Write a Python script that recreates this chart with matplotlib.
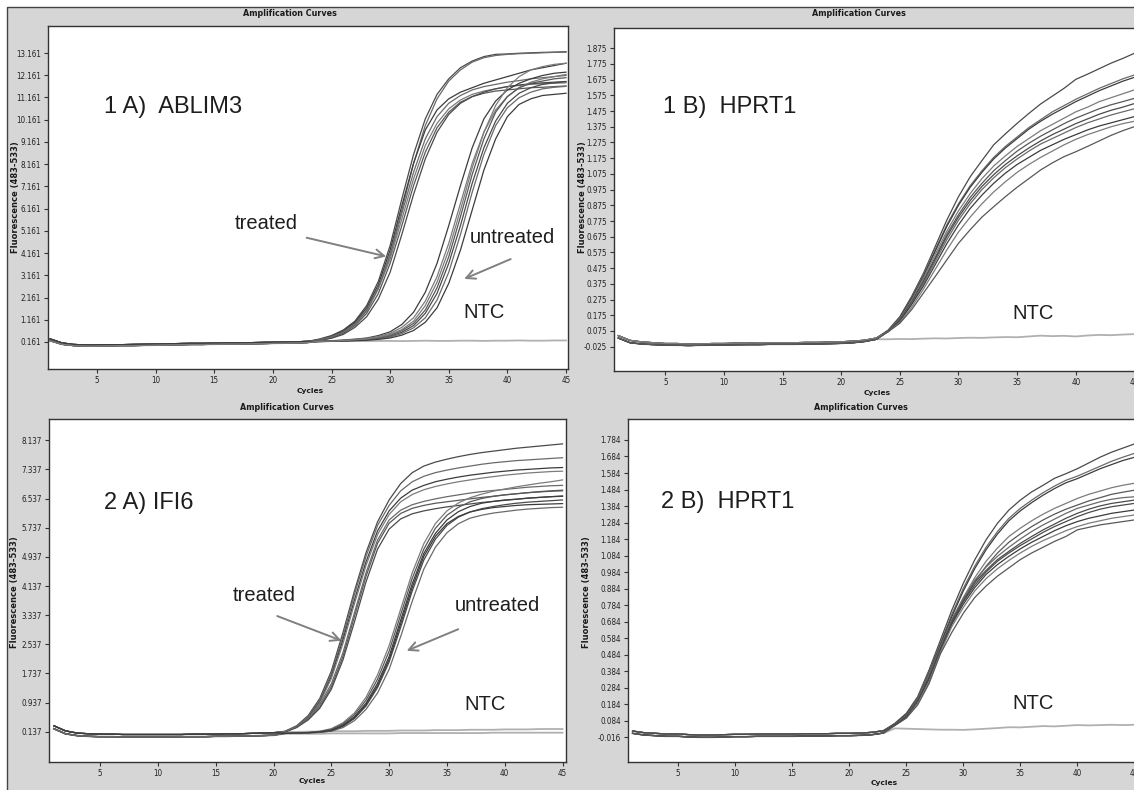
import matplotlib.pyplot as plt
from matplotlib import font_manager
from matplotlib.patches import Rectangle
from matplotlib.lines import Line2D

W, H = 1134, 790

cycles = list(range(1, 46))
x_ticks = [5, 10, 15, 20, 25, 30, 35, 40, 45]

# ---- 1 A) ABLIM3 ----
ablim3_ticks = [0.161, 1.161, 2.161, 3.161, 4.161, 5.161, 6.161, 7.161,
                8.161, 9.161, 10.161, 11.161, 12.161, 13.161]
ablim3_base_a = [0.30, 0.12, 0.05, 0.03, 0.03, 0.04, 0.04, 0.05, 0.06, 0.07, 0.08, 0.09,
                 0.10, 0.10, 0.11, 0.12, 0.12, 0.13, 0.14, 0.15, 0.16, 0.17, 0.19]
ablim3_base_b = [0.22, 0.06, 0.00, -0.02, -0.02, -0.01, 0.00, 0.00, 0.01, 0.02, 0.03, 0.04,
                 0.05, 0.05, 0.06, 0.07, 0.07, 0.08, 0.09, 0.10, 0.11, 0.12, 0.14]
# cycles 24..45
ablim3_treated = [
    [0.30, 0.45, 0.70, 1.10, 1.80, 2.90, 4.50, 6.60, 8.60, 10.2, 11.3, 12.0, 12.5, 12.8, 13.0, 13.1, 13.12, 13.15, 13.17, 13.19, 13.2, 13.22],
    [0.28, 0.40, 0.62, 1.00, 1.60, 2.60, 4.10, 6.10, 8.20, 9.90, 11.1, 11.9, 12.4, 12.75, 12.95, 13.05, 13.1, 13.13, 13.15, 13.17, 13.19, 13.2],
    [0.27, 0.42, 0.65, 1.05, 1.70, 2.75, 4.30, 6.30, 8.20, 9.70, 10.6, 11.1, 11.4, 11.6, 11.8, 11.95, 12.1, 12.25, 12.4, 12.5, 12.6, 12.7],
    [0.25, 0.38, 0.60, 0.95, 1.55, 2.55, 3.90, 5.70, 7.50, 9.00, 10.0, 10.65, 11.05, 11.3, 11.45, 11.55, 11.65, 11.7, 11.75, 11.78, 11.8, 11.82],
    [0.24, 0.35, 0.55, 0.90, 1.45, 2.35, 3.70, 5.40, 7.20, 8.70, 9.80, 10.5, 10.95, 11.2, 11.35, 11.45, 11.5, 11.55, 11.6, 11.62, 11.65, 11.68],
    [0.23, 0.33, 0.50, 0.82, 1.30, 2.10, 3.30, 5.00, 6.80, 8.40, 9.60, 10.4, 10.9, 11.2, 11.4, 11.55, 11.65, 11.72, 11.78, 11.82, 11.85, 11.88],
    [0.26, 0.39, 0.60, 0.98, 1.58, 2.62, 4.05, 5.95, 7.80, 9.30, 10.3, 10.9, 11.25, 11.5, 11.65, 11.75, 11.85, 11.92, 12.0, 12.05, 12.1, 12.15],
]
ablim3_untreated = [
    [0.20, 0.22, 0.25, 0.29, 0.34, 0.45, 0.62, 0.95, 1.50, 2.40, 3.70, 5.40, 7.20, 8.90, 10.2, 11.0, 11.5, 11.8, 12.0, 12.15, 12.25, 12.3],
    [0.19, 0.21, 0.23, 0.27, 0.32, 0.41, 0.55, 0.82, 1.25, 2.00, 3.10, 4.60, 6.40, 8.20, 9.60, 10.6, 11.2, 11.6, 11.85, 12.0, 12.1, 12.2],
    [0.19, 0.20, 0.22, 0.25, 0.29, 0.36, 0.47, 0.67, 1.00, 1.60, 2.60, 4.00, 5.80, 7.70, 9.30, 10.5, 11.2, 11.6, 11.8, 11.9, 12.0, 12.05],
    [0.18, 0.20, 0.21, 0.24, 0.27, 0.32, 0.42, 0.60, 0.90, 1.45, 2.35, 3.70, 5.40, 7.30, 8.90, 10.1, 10.9, 11.35, 11.6, 11.75, 11.82, 11.87],
    [0.18, 0.19, 0.21, 0.23, 0.26, 0.30, 0.39, 0.54, 0.80, 1.25, 2.05, 3.30, 5.00, 6.90, 8.60, 9.90, 10.7, 11.15, 11.4, 11.55, 11.62, 11.66],
    [0.18, 0.19, 0.20, 0.22, 0.24, 0.28, 0.34, 0.47, 0.68, 1.05, 1.70, 2.80, 4.30, 6.10, 7.90, 9.30, 10.3, 10.85, 11.1, 11.25, 11.3, 11.35],
    [0.19, 0.20, 0.22, 0.26, 0.30, 0.38, 0.50, 0.72, 1.10, 1.80, 2.85, 4.30, 6.10, 8.00, 9.60, 10.8, 11.6, 12.1, 12.4, 12.55, 12.65, 12.7],
]
ablim3_ntc = [
    [0.20, 0.20, 0.21, 0.20, 0.20, 0.21, 0.21, 0.20, 0.21, 0.22, 0.21, 0.21, 0.22, 0.22, 0.21, 0.22, 0.22, 0.23, 0.22, 0.22, 0.23, 0.23],
]

# ---- 1 B) HPRT1 ----
hprt1_1_ticks = [-0.025, 0.075, 0.175, 0.275, 0.375, 0.475, 0.575, 0.675, 0.775, 0.875,
                 0.975, 1.075, 1.175, 1.275, 1.375, 1.475, 1.575, 1.675, 1.775, 1.875]
hprt1_1_base_a = [0.045, 0.015, 0.005, 0.0, -0.005, -0.005, -0.008, -0.008, -0.005, -0.005, -0.003, -0.003,
                  0.0, 0.0, 0.0, 0.0, 0.002, 0.002, 0.004, 0.006, 0.01, 0.016, 0.03]
hprt1_1_base_b = [0.03, 0.0, -0.008, -0.012, -0.015, -0.016, -0.018, -0.016, -0.015, -0.014, -0.013, -0.012,
                  -0.012, -0.01, -0.01, -0.01, -0.008, -0.008, -0.006, -0.004, 0.0, 0.008, 0.022]
# cycles 24..45
hprt1_1_curves = [
    [0.080, 0.166, 0.294, 0.44, 0.61, 0.78, 0.93, 1.057, 1.16, 1.26, 1.33, 1.397, 1.46, 1.52, 1.57, 1.62, 1.677, 1.71, 1.745, 1.78, 1.81, 1.843],
    [0.078, 0.160, 0.285, 0.43, 0.59, 0.75, 0.885, 1.0, 1.095, 1.18, 1.25, 1.31, 1.37, 1.42, 1.47, 1.51, 1.55, 1.585, 1.62, 1.65, 1.68, 1.705],
    [0.076, 0.158, 0.280, 0.42, 0.58, 0.74, 0.875, 0.99, 1.085, 1.17, 1.24, 1.30, 1.36, 1.41, 1.455, 1.495, 1.535, 1.57, 1.605, 1.635, 1.665, 1.69],
    [0.075, 0.152, 0.270, 0.41, 0.56, 0.71, 0.84, 0.95, 1.045, 1.125, 1.19, 1.25, 1.30, 1.35, 1.39, 1.43, 1.47, 1.50, 1.535, 1.56, 1.585, 1.61],
    [0.074, 0.148, 0.260, 0.395, 0.54, 0.69, 0.815, 0.925, 1.015, 1.095, 1.16, 1.22, 1.27, 1.315, 1.355, 1.395, 1.43, 1.46, 1.49, 1.515, 1.535, 1.556],
    [0.073, 0.145, 0.255, 0.385, 0.53, 0.675, 0.80, 0.905, 0.995, 1.07, 1.135, 1.19, 1.24, 1.285, 1.325, 1.36, 1.395, 1.425, 1.455, 1.48, 1.50, 1.523],
    [0.072, 0.142, 0.250, 0.375, 0.515, 0.655, 0.78, 0.885, 0.975, 1.05, 1.115, 1.17, 1.22, 1.265, 1.30, 1.335, 1.37, 1.40, 1.425, 1.45, 1.47, 1.49],
    [0.071, 0.138, 0.242, 0.36, 0.495, 0.63, 0.75, 0.855, 0.94, 1.015, 1.08, 1.135, 1.18, 1.225, 1.26, 1.295, 1.325, 1.355, 1.38, 1.40, 1.42, 1.44],
    [0.070, 0.130, 0.225, 0.34, 0.465, 0.59, 0.705, 0.80, 0.885, 0.96, 1.025, 1.085, 1.135, 1.18, 1.22, 1.26, 1.295, 1.325, 1.35, 1.375, 1.395, 1.41],
    [0.070, 0.124, 0.210, 0.315, 0.42, 0.527, 0.633, 0.72, 0.80, 0.866, 0.93, 0.99, 1.045, 1.10, 1.145, 1.185, 1.216, 1.25, 1.285, 1.32, 1.35, 1.376],
]
hprt1_1_ntc = [
    [0.022, 0.024, 0.023, 0.026, 0.028, 0.027, 0.030, 0.032, 0.031, 0.034, 0.036, 0.035, 0.040, 0.045, 0.042, 0.044, 0.040, 0.046, 0.050, 0.048, 0.052, 0.055],
]

# ---- 2 A) IFI6 ----
ifi6_ticks = [0.137, 0.937, 1.737, 2.537, 3.337, 4.137, 4.937, 5.737, 6.537, 7.337, 8.137]
ifi6_base_a = [0.30, 0.16, 0.10, 0.08, 0.07, 0.07, 0.06, 0.06, 0.06, 0.06,
               0.06, 0.06, 0.07, 0.07, 0.07, 0.08, 0.08, 0.09, 0.10, 0.11]
ifi6_base_b = [0.22, 0.08, 0.03, 0.01, 0.00, 0.00, -0.01, -0.01, -0.01, -0.01,
               -0.01, 0.00, 0.00, 0.00, 0.01, 0.01, 0.02, 0.02, 0.03, 0.04]
# cycles 21..45
ifi6_treated = [
    [0.15, 0.30, 0.58, 1.05, 1.80, 2.85, 4.00, 5.05, 5.90, 6.50, 6.95, 7.25, 7.43, 7.54, 7.62, 7.69, 7.75, 7.80, 7.84, 7.88, 7.92, 7.95, 7.98, 8.01, 8.04],
    [0.14, 0.28, 0.55, 1.00, 1.72, 2.75, 3.90, 4.95, 5.80, 6.35, 6.75, 7.00, 7.15, 7.25, 7.32, 7.38, 7.43, 7.48, 7.52, 7.55, 7.58, 7.60, 7.62, 7.64, 7.66],
    [0.14, 0.27, 0.52, 0.95, 1.65, 2.65, 3.75, 4.80, 5.65, 6.20, 6.55, 6.77, 6.90, 7.00, 7.07, 7.13, 7.18, 7.22, 7.26, 7.29, 7.32, 7.34, 7.36, 7.38, 7.39],
    [0.13, 0.26, 0.50, 0.92, 1.60, 2.55, 3.65, 4.70, 5.55, 6.10, 6.45, 6.65, 6.78, 6.87, 6.94, 7.00, 7.05, 7.10, 7.14, 7.18, 7.21, 7.24, 7.26, 7.28, 7.29],
    [0.14, 0.27, 0.50, 0.82, 1.37, 2.20, 3.30, 4.40, 5.31, 5.86, 6.13, 6.27, 6.35, 6.41, 6.45, 6.49, 6.53, 6.57, 6.60, 6.64, 6.67, 6.70, 6.73, 6.75, 6.77],
    [0.13, 0.25, 0.46, 0.78, 1.30, 2.10, 3.15, 4.25, 5.15, 5.70, 5.98, 6.12, 6.20, 6.26, 6.31, 6.35, 6.39, 6.43, 6.46, 6.49, 6.52, 6.55, 6.57, 6.59, 6.60],
    [0.14, 0.28, 0.52, 0.88, 1.45, 2.30, 3.40, 4.50, 5.40, 5.95, 6.22, 6.37, 6.46, 6.53, 6.59, 6.64, 6.69, 6.73, 6.76, 6.79, 6.82, 6.85, 6.87, 6.89, 6.90],
]
ifi6_untreated = [
    [0.09, 0.10, 0.11, 0.13, 0.18, 0.32, 0.55, 0.92, 1.47, 2.20, 3.20, 4.20, 5.03, 5.58, 5.95, 6.18, 6.32, 6.41, 6.46, 6.50, 6.52, 6.55, 6.57, 6.59, 6.61],
    [0.09, 0.10, 0.12, 0.15, 0.22, 0.38, 0.65, 1.08, 1.70, 2.50, 3.50, 4.50, 5.30, 5.85, 6.20, 6.42, 6.56, 6.66, 6.74, 6.80, 6.86, 6.91, 6.96, 7.00, 7.05],
    [0.09, 0.10, 0.11, 0.14, 0.20, 0.35, 0.60, 1.00, 1.58, 2.35, 3.35, 4.35, 5.15, 5.72, 6.08, 6.30, 6.45, 6.54, 6.60, 6.64, 6.67, 6.70, 6.72, 6.74, 6.75],
    [0.09, 0.10, 0.11, 0.12, 0.16, 0.28, 0.50, 0.84, 1.35, 2.05, 3.00, 4.00, 4.85, 5.42, 5.80, 6.03, 6.17, 6.26, 6.32, 6.37, 6.41, 6.44, 6.46, 6.48, 6.50],
    [0.09, 0.10, 0.10, 0.12, 0.15, 0.25, 0.44, 0.75, 1.20, 1.85, 2.75, 3.72, 4.60, 5.20, 5.60, 5.85, 6.00, 6.08, 6.14, 6.18, 6.22, 6.25, 6.27, 6.29, 6.30],
    [0.09, 0.10, 0.11, 0.13, 0.17, 0.30, 0.52, 0.88, 1.40, 2.12, 3.10, 4.10, 4.95, 5.50, 5.85, 6.05, 6.17, 6.24, 6.29, 6.32, 6.35, 6.37, 6.38, 6.39, 6.40],
]
ifi6_ntc = [
    [0.13, 0.13, 0.14, 0.14, 0.15, 0.15, 0.15, 0.16, 0.16, 0.16, 0.17, 0.17, 0.17, 0.18, 0.18, 0.18, 0.19, 0.19, 0.19, 0.20, 0.20, 0.20, 0.21, 0.21, 0.21],
    [0.08, 0.08, 0.08, 0.08, 0.09, 0.09, 0.09, 0.09, 0.09, 0.09, 0.10, 0.10, 0.10, 0.10, 0.10, 0.10, 0.10, 0.10, 0.11, 0.11, 0.11, 0.11, 0.11, 0.11, 0.11],
]

# ---- 2 B) HPRT1 ----
hprt1_2_ticks = [-0.016, 0.084, 0.184, 0.284, 0.384, 0.484, 0.584, 0.684, 0.784, 0.884,
                 0.984, 1.084, 1.184, 1.284, 1.384, 1.484, 1.584, 1.684, 1.784]
hprt1_2_base_a = [0.022, 0.012, 0.008, 0.004, 0.004, 0.0, -0.002, -0.002, 0.0, 0.002, 0.002, 0.004,
                  0.004, 0.004, 0.004, 0.006, 0.006, 0.006, 0.008, 0.008, 0.01, 0.014, 0.024]
hprt1_2_base_b = [0.008, -0.002, -0.006, -0.01, -0.01, -0.014, -0.016, -0.016, -0.014, -0.012, -0.012, -0.01,
                  -0.01, -0.01, -0.01, -0.008, -0.008, -0.008, -0.006, -0.006, -0.004, 0.0, 0.01]
# cycles 24..45
hprt1_2_curves = [
    [0.069, 0.129, 0.230, 0.392, 0.573, 0.755, 0.916, 1.058, 1.18, 1.28, 1.36, 1.42, 1.47, 1.51, 1.552, 1.58, 1.61, 1.645, 1.68, 1.71, 1.735, 1.76],
    [0.066, 0.124, 0.222, 0.380, 0.555, 0.730, 0.885, 1.02, 1.135, 1.23, 1.31, 1.37, 1.42, 1.465, 1.505, 1.54, 1.565, 1.595, 1.625, 1.655, 1.68, 1.703],
    [0.065, 0.122, 0.218, 0.372, 0.545, 0.715, 0.870, 1.005, 1.12, 1.215, 1.295, 1.355, 1.405, 1.45, 1.49, 1.525, 1.55, 1.58, 1.61, 1.635, 1.66, 1.679],
    [0.062, 0.115, 0.213, 0.365, 0.530, 0.690, 0.830, 0.95, 1.05, 1.13, 1.20, 1.25, 1.295, 1.335, 1.37, 1.40, 1.43, 1.455, 1.475, 1.495, 1.51, 1.522],
    [0.060, 0.112, 0.210, 0.355, 0.520, 0.675, 0.810, 0.925, 1.02, 1.10, 1.165, 1.215, 1.26, 1.30, 1.335, 1.365, 1.39, 1.415, 1.435, 1.455, 1.468, 1.48],
    [0.059, 0.109, 0.210, 0.351, 0.533, 0.694, 0.815, 0.92, 0.995, 1.06, 1.11, 1.158, 1.20, 1.24, 1.275, 1.31, 1.34, 1.365, 1.385, 1.40, 1.41, 1.42],
    [0.060, 0.111, 0.212, 0.355, 0.535, 0.700, 0.825, 0.935, 1.015, 1.08, 1.135, 1.185, 1.23, 1.27, 1.305, 1.34, 1.37, 1.39, 1.41, 1.425, 1.435, 1.44],
    [0.058, 0.106, 0.200, 0.335, 0.510, 0.670, 0.790, 0.89, 0.97, 1.03, 1.08, 1.125, 1.165, 1.20, 1.235, 1.265, 1.29, 1.31, 1.325, 1.34, 1.35, 1.36],
    [0.057, 0.104, 0.190, 0.320, 0.500, 0.655, 0.770, 0.87, 0.945, 1.005, 1.055, 1.10, 1.14, 1.175, 1.205, 1.235, 1.26, 1.28, 1.295, 1.31, 1.32, 1.33],
    [0.055, 0.100, 0.180, 0.310, 0.490, 0.620, 0.735, 0.83, 0.90, 0.96, 1.01, 1.06, 1.10, 1.135, 1.17, 1.20, 1.24, 1.255, 1.27, 1.28, 1.29, 1.30],
    [0.059, 0.108, 0.205, 0.345, 0.520, 0.680, 0.805, 0.905, 0.985, 1.05, 1.10, 1.145, 1.185, 1.225, 1.26, 1.29, 1.32, 1.345, 1.365, 1.38, 1.39, 1.40],
]
hprt1_2_ntc = [
    [0.038, 0.036, 0.034, 0.032, 0.030, 0.030, 0.029, 0.032, 0.036, 0.040, 0.045, 0.044, 0.048, 0.052, 0.050, 0.054, 0.058, 0.056, 0.058, 0.060, 0.058, 0.060],
]

curve_colors = ['#4a4a4a', '#6a6a6a', '#3c3c3c', '#7c7c7c', '#585858']
big_font = ['Liberation Sans', 'DejaVu Sans']
head_font = dict(family=['DejaVu Sans'], weight='bold')

# narrow font for the small tick labels, whatever is installed
_fonts = {(f.name, f.stretch) for f in font_manager.fontManager.ttflist}
_names = {f[0] for f in _fonts}
if 'Liberation Sans Narrow' in _names:
    small = dict(family=['Liberation Sans Narrow', 'DejaVu Sans'], size=6.2)
elif ('DejaVu Sans', 'condensed') in _fonts or 'DejaVu Sans Condensed' in _names:
    small = dict(family=['DejaVu Sans Condensed', 'DejaVu Sans'], stretch='condensed', size=5.8)
else:
    small = dict(family=['Liberation Sans', 'DejaVu Sans'], size=5.4)


def fig_xy(x, y):
    return x / W, 1 - y / H


def full(base, tail):
    return base[:45 - len(tail)] + tail


def draw_panel(fig, box, xlim, ylim, yticks, base_a, base_b, curves, ntcs,
               title_at, cycles_at, fluo_at, label, label_at, notes):
    left, top, right, bottom = box
    ax = fig.add_axes([left / W, 1 - bottom / H, (right - left) / W, (bottom - top) / H])
    ax.set_zorder(2)
    ax.set_facecolor('white')
    for s in ax.spines.values():
        s.set_color('#333333')
        s.set_linewidth(1.0)

    for tail in ntcs:
        ax.plot(cycles, full(base_b, tail), color='#b0b0b0', lw=1.3, zorder=2)
    for i, tail in enumerate(curves):
        base = base_a if i % 2 == 0 else base_b
        ax.plot(cycles, full(base, tail), color=curve_colors[i % len(curve_colors)],
                lw=0.9, zorder=3)

    ax.set_xlim(xlim)
    ax.set_ylim(ylim)
    ax.set_xticks(x_ticks)
    ax.set_xticklabels([str(t) for t in x_ticks], color='#222222', **small)
    ax.set_yticks(yticks)
    ax.set_yticklabels(['%.3f' % t for t in yticks], color='#222222', **small)
    ax.tick_params(direction='out', length=3, width=0.8, color='#333333', pad=2)

    ax.text(label_at[0], label_at[1], label, family=big_font, fontsize=17,
            color='#1e1e1e', ha='left', va='center')
    for n in notes:
        ax.text(n['at'][0], n['at'][1], n['text'], family=big_font, fontsize=14.5,
                color='#1e1e1e', ha='center', va='center')
        if 'tail' in n:
            ax.annotate('', xy=n['tip'], xytext=n['tail'],
                        arrowprops=dict(arrowstyle='->', color='#808080', lw=1.4,
                                        mutation_scale=16))

    fx, fy = fig_xy(*title_at)
    fig.text(fx, fy, 'Amplification Curves', size=5.8, color='#1a1a1a',
             ha='center', va='center', **head_font)
    fx, fy = fig_xy(*cycles_at)
    fig.text(fx, fy, 'Cycles', size=5.4, color='#1a1a1a',
             ha='center', va='center', **head_font)
    fx, fy = fig_xy(*fluo_at)
    fig.text(fx, fy, 'Fluorescence (483-533)', size=6.0, color='#1a1a1a',
             ha='center', va='center', rotation=90, **head_font)
    return ax


def main():
    fig = plt.figure(figsize=(W / 100, H / 100), dpi=100, facecolor='white')
    # grey instrument-window background with a dark left/top border
    fig.patches.append(Rectangle((7 / W, 0), 1 - 7 / W, 1 - 7 / H, transform=fig.transFigure,
                                 facecolor='#d6d6d6', edgecolor='none', zorder=-5))
    fig.lines.append(Line2D([7 / W, 7 / W, 1], [0, 1 - 7 / H, 1 - 7 / H],
                            transform=fig.transFigure, color='#444444', lw=1.0, zorder=-4))

    draw_panel(fig, (48, 26, 568, 369), (0.82, 45.17), (-1.054, 14.376), ablim3_ticks,
               ablim3_base_a, ablim3_base_b, ablim3_treated + ablim3_untreated, ablim3_ntc,
               (290, 13), (310, 391), (16, 197), '1 A)  ABLIM3', (5.6, 10.73),
               [{'text': 'treated', 'at': (19.4, 5.47), 'tail': (22.65, 4.88), 'tip': (29.9, 3.98)},
                {'text': 'untreated', 'at': (40.4, 4.88), 'tail': (40.5, 3.94), 'tip': (36.1, 2.95)},
                {'text': 'NTC', 'at': (38.0, 1.47)}])

    draw_panel(fig, (614, 28, 1137, 371), (0.63, 45.22), (-0.180, 2.004), hprt1_1_ticks,
               hprt1_1_base_a, hprt1_1_base_b, hprt1_1_curves, hprt1_1_ntc,
               (859, 14), (877, 393), (582, 197), '1 B)  HPRT1', (4.8, 1.498),
               [{'text': 'NTC', 'at': (36.35, 0.186)}])

    draw_panel(fig, (49, 419, 566, 762), (0.58, 45.3), (-0.695, 8.723), ifi6_ticks,
               ifi6_base_a, ifi6_base_b, ifi6_treated + ifi6_untreated, ifi6_ntc,
               (287, 407), (312, 781), (15, 592), '2 A) IFI6', (5.35, 6.43),
               [{'text': 'treated', 'at': (19.2, 3.88), 'tail': (20.1, 3.34), 'tip': (26.1, 2.61)},
                {'text': 'untreated', 'at': (39.35, 3.6), 'tail': (36.2, 2.98), 'tip': (31.3, 2.33)},
                {'text': 'NTC', 'at': (38.3, 0.88)}])

    draw_panel(fig, (628, 419, 1137, 762), (0.6, 45.23), (-0.1655, 1.911), hprt1_2_ticks,
               hprt1_2_base_a, hprt1_2_base_b, hprt1_2_curves, hprt1_2_ntc,
               (861, 407), (884, 783), (587, 592), '2 B)  HPRT1', (3.47, 1.411),
               [{'text': 'NTC', 'at': (36.1, 0.189)}])

    fig.savefig('out.png', dpi=100, facecolor='white')


if __name__ == '__main__':
    main()
